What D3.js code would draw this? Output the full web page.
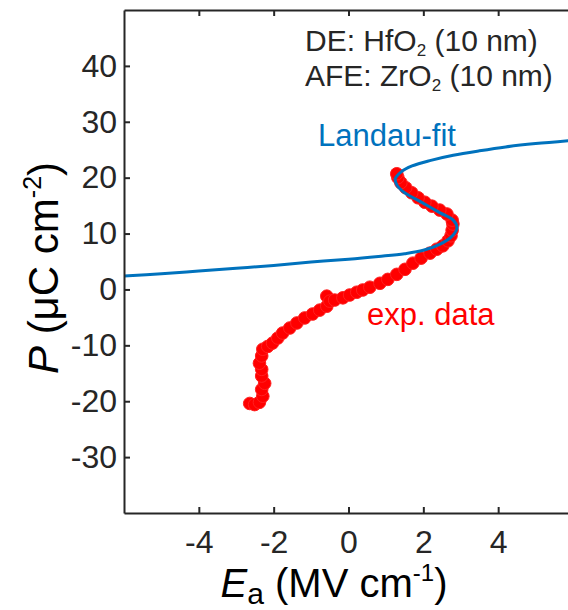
<!DOCTYPE html>
<html>
<head>
<meta charset="utf-8">
<script src="https://cdn.jsdelivr.net/npm/d3@7"></script>
<style>
  body { margin: 0; background: #fff; }
  svg { font-family: "Liberation Sans", Arial, sans-serif; }
</style>
</head>
<body>
<div id="chart"></div>
<script>
// Landau fit (E in MV/cm, P in uC/cm2)
const fitE = [-6.0, -5.0, -4.0, -3.0, -2.0, -1.0, 0.0, 0.8, 1.5, 2.0, 2.45, 2.75, 2.9, 2.8, 2.45, 1.9, 1.5, 1.3, 1.25, 1.4, 1.7, 2.2, 2.8, 3.5, 4.2, 5.0, 6.0];
const fitP = [2.4, 2.8, 3.3, 3.8, 4.3, 4.9, 5.4, 5.9, 6.4, 7.0, 8.1, 9.4, 11.0, 12.4, 13.7, 15.8, 17.3, 18.6, 19.8, 21.0, 22.1, 23.1, 24.0, 24.8, 25.5, 26.1, 26.7];

// measured points
const expE = [-2.64, -2.51, -2.38, -2.29, -2.32, -2.24, -2.32, -2.32, -2.38, -2.32, -2.29, -2.16, -2.03, -1.89, -1.76, -1.57, -1.38, -1.17, -0.96, -0.77, -0.58, -0.58, -0.50, -0.37, -0.15, 0.03, 0.22, 0.38, 0.57, 0.84, 1.05, 1.29, 1.51, 1.72, 1.94, 2.18, 2.36, 2.52, 2.66, 2.74, 2.77, 2.79, 2.77, 2.63, 2.44, 2.23, 2.04, 1.86, 1.69, 1.53, 1.40, 1.32, 1.29];
const expP = [-20.4, -20.6, -20.2, -19.1, -17.9, -16.8, -15.5, -14.3, -13.2, -11.9, -10.7, -10.2, -9.6, -8.7, -7.8, -6.9, -6.0, -5.1, -4.4, -3.7, -3.0, -1.2, -2.1, -1.9, -1.5, -1.0, -0.5, -0.1, 0.4, 1.1, 1.8, 2.7, 3.6, 4.7, 5.6, 6.5, 7.2, 7.8, 8.7, 9.6, 10.6, 11.7, 12.4, 13.5, 14.2, 14.9, 15.6, 16.4, 17.3, 18.2, 19.1, 20.0, 20.7];

const xTicks = [-4, -2, 0, 2, 4];
const yTicks = [-30, -20, -10, 0, 10, 20, 30, 40];

const W = 568, H = 610;
const mLeft = 124, mTop = 10, mBottom = 513, mRight = 573;
const ink = "#262626";

const svg = d3.select("#chart").append("svg")
  .attr("width", W)
  .attr("height", H);

const x = d3.scaleLinear().domain([-6, 6]).range([mLeft, mRight]);
const y = d3.scaleLinear().domain([-40, 50]).range([mBottom, mTop]);

svg.append("clipPath").attr("id", "plotclip")
  .append("rect")
  .attr("x", mLeft).attr("y", mTop)
  .attr("width", mRight - mLeft).attr("height", mBottom - mTop);

const plot = svg.append("g").attr("clip-path", "url(#plotclip)");

// experimental data markers
const expData = expE.map((e, i) => [e, expP[i]]);
plot.selectAll("circle.exp")
  .data(expData)
  .enter().append("circle")
  .attr("class", "exp")
  .attr("cx", d => x(d[0]))
  .attr("cy", d => y(d[1]))
  .attr("r", 6.3)
  .attr("fill", "#ff0000")
  .attr("stroke", "#ff2020")
  .attr("stroke-width", 1);

// Landau fit curve on top
const fitData = fitE.map((e, i) => [e, fitP[i]]);
plot.append("path")
  .datum(fitData)
  .attr("fill", "none")
  .attr("stroke", "#0072BD")
  .attr("stroke-width", 3)
  .attr("d", d3.line().x(d => x(d[0])).y(d => y(d[1])).curve(d3.curveCatmullRom.alpha(0.5)));

// axes (ticks inside like MATLAB)
const xAxis = svg.append("g").attr("transform", `translate(0,${mBottom})`)
  .call(d3.axisBottom(x).tickValues(xTicks).tickSizeInner(-6).tickSizeOuter(0).tickPadding(17).tickFormat(d3.format("d")));
const xTop = svg.append("g").attr("transform", `translate(0,${mTop})`)
  .call(d3.axisTop(x).tickValues(xTicks).tickSizeInner(-6).tickSizeOuter(0).tickFormat(""));
const yAxis = svg.append("g").attr("transform", `translate(${mLeft},0)`)
  .call(d3.axisLeft(y).tickValues(yTicks).tickSizeInner(-6).tickSizeOuter(0).tickPadding(7).tickFormat(d3.format("d")));

[xAxis, xTop, yAxis].forEach(g => {
  g.select(".domain").attr("stroke", ink).attr("stroke-width", 2);
  g.selectAll(".tick line").attr("stroke", ink).attr("stroke-width", 2);
  g.selectAll(".tick text").attr("fill", ink).style("font-size", "32px");
});
xAxis.selectAll(".tick text").text(d => d < 0 ? "-" + Math.abs(d) : d);
yAxis.selectAll(".tick text").text(d => d < 0 ? "-" + Math.abs(d) : d);

// axis labels
const xl = svg.append("text")
  .attr("x", 334).attr("y", 597)
  .attr("text-anchor", "middle")
  .attr("fill", "#000")
  .style("font-size", "40px");
xl.append("tspan").style("font-style", "italic").text("E");
xl.append("tspan").attr("dy", 7).style("font-size", "30px").text("a");
xl.append("tspan").attr("dy", -7).text(" (MV cm");
xl.append("tspan").attr("dy", -16).style("font-size", "24px").text("-1");
xl.append("tspan").attr("dy", 16).text(")");

const yl = svg.append("text")
  .attr("transform", "translate(58,268) rotate(-90)")
  .attr("text-anchor", "middle")
  .attr("fill", "#000")
  .style("font-size", "42px");
yl.append("tspan").style("font-style", "italic").text("P");
yl.append("tspan").text(" (\u03bcC cm");
yl.append("tspan").attr("dy", -17).style("font-size", "25px").text("-2");
yl.append("tspan").attr("dy", 17).text(")");

// annotations
function subText(xp, yp, before, after) {
  const t = svg.append("text").attr("x", xp).attr("y", yp)
    .attr("fill", ink).style("font-size", "30px");
  t.append("tspan").text(before);
  t.append("tspan").attr("dy", 5).style("font-size", "17px").text("2");
  t.append("tspan").attr("dy", -5).text(after);
}
subText(305, 51, "DE: HfO", " (10 nm)");
subText(305, 86, "AFE: ZrO", " (10 nm)");

svg.append("text").attr("x", 318).attr("y", 146)
  .attr("fill", "#0072BD").style("font-size", "31px").text("Landau-fit");
svg.append("text").attr("x", 367).attr("y", 325)
  .attr("fill", "#ff0000").style("font-size", "31px").text("exp. data");
</script>
</body>
</html>
